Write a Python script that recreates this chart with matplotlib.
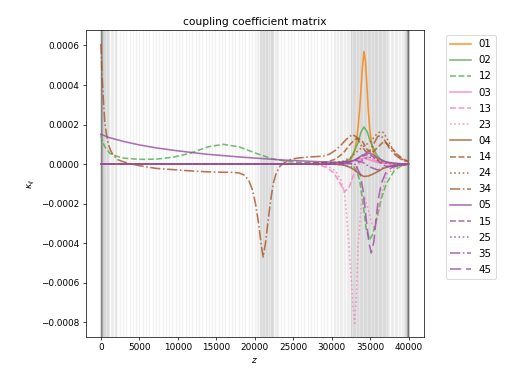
import numpy as np
from matplotlib import pyplot as plt

# colours by the higher mode index, line style by the lower one
mode_colors = {'1': '#ff7f00', '2': '#4daf4a', '3': '#f781bf', '4': '#a65628', '5': '#984ea3'}
mode_styles = {'0': '-', '1': '--', '2': ':', '3': '-.', '4': (0, (7, 3))}

labels = ['01', '02', '12', '03', '13', '23', '04', '14', '24', '34', '05', '15', '25', '35', '45']

# z positions and kappa values (in units of 1e-4)
z_01 = [0, 30000, 31500, 32100, 32500, 32800, 33000, 33200, 33450, 33650, 33850, 34000, 34200, 34400,
        34600, 34750, 34950, 35160, 35400, 35800, 36300, 36700, 37500, 38500, 40000]
k_01 = [0, 0, 0.03, 0.1, 0.25, 0.45, 0.7, 1.1, 1.9, 2.8, 4.0, 4.9, 5.7, 5.2,
        3.9, 2.8, 1.8, 1.1, 0.65, 0.3, 0.14, 0.08, 0.03, 0.01, 0]

z_02 = [0, 30000, 31000, 31500, 32000, 32500, 33000, 33400, 33800, 34200, 34600, 35000, 35400, 35800,
        36300, 37000, 38000, 39000, 40000]
k_02 = [0, 0.02, 0.06, 0.1, 0.17, 0.3, 0.7, 1.05, 1.6, 1.88, 1.65, 1.2, 0.85, 0.5,
        0.25, 0.1, 0.03, 0.01, 0]

z_12 = [0, 250, 520, 1170, 2030, 3000, 5070, 7200, 9400, 11550, 13900, 15900, 18000, 20200, 22400,
        24500, 26700, 28900, 30500, 31500, 32500, 33200, 33640, 34080, 34500, 34950, 35400, 36000,
        36500, 37100, 38200, 39000, 40000]
k_12 = [1.46, 1.1, 0.87, 0.54, 0.4, 0.3, 0.24, 0.25, 0.35, 0.54, 0.87, 1.0, 0.87, 0.54, 0.25,
        0.12, 0.07, 0.06, 0.08, 0.1, 0.05, -0.3, -0.8, -2.0, -3.3, -3.83, -3.5, -2.5,
        -1.7, -1.0, -0.3, -0.1, 0]

z_03 = [0, 31000, 32500, 33500, 34300, 35000, 36000, 37500, 40000]
k_03 = [0, 0, 0.1, 0.25, 0.3, 0.2, 0.08, 0.02, 0]

z_13 = [0, 27000, 28500, 29500, 30300, 31000, 31700, 32300, 32800, 33400, 34000, 34700, 35500,
        36500, 38000, 40000]
k_13 = [0, 0, -0.05, -0.2, -0.45, -0.9, -1.4, -1.15, -0.6, -0.1, 0.3, 0.35, 0.2,
        0.08, 0.02, 0]

z_23 = [0, 28000, 29500, 30500, 31200, 31700, 32100, 32550, 32800, 33000, 33220, 33430, 33860,
        34200, 34700, 35200, 35600, 36000, 36500, 37200, 38500, 40000]
k_23 = [0, 0, -0.1, -0.35, -0.8, -1.5, -3.3, -5.8, -7.3, -8.05, -6.7, -4.2, -2.0,
        -1.6, -2.2, -3.0, -3.3, -2.7, -1.4, -0.5, -0.1, 0]

z_04 = [0, 30500, 31500, 32300, 33000, 33600, 34200, 34800, 35400, 36000, 36700, 37500, 38500, 40000]
k_04 = [0, 0, -0.05, -0.15, -0.3, -0.5, -0.63, -0.6, -0.5, -0.38, -0.22, -0.12, -0.05, 0]

z_14 = [0, 26000, 28000, 29500, 30500, 31500, 32300, 33000, 33500, 34000, 34600, 35200, 36000,
        36800, 37600, 38500, 39300, 40000]
k_14 = [0, 0.02, 0.06, 0.12, 0.25, 0.55, 0.95, 1.25, 1.3, 1.15, 0.75, 0.55, 0.85,
        1.15, 0.9, 0.5, 0.25, 0.12]

z_24 = [0, 28000, 30000, 31500, 32500, 33500, 34300, 35000, 35700, 36300, 36700, 37200, 37800,
        38500, 39300, 40000]
k_24 = [0, 0.01, 0.05, 0.15, 0.35, 0.7, 0.95, 1.1, 1.45, 1.65, 1.6, 1.3, 0.85,
        0.45, 0.22, 0.15]

z_34 = [0, 150, 300, 520, 750, 950, 1250, 1600, 2200, 2900, 4000, 5000, 7200, 9400, 11500, 13700,
        15500, 17200, 18000, 18600, 19200, 19700, 20100, 20500, 20850, 21100, 21400, 21700, 22050,
        22400, 22800, 23300, 23800, 24500, 25500, 26700, 28000, 28900, 29700, 30500, 31200, 31900,
        32700, 33300, 33900, 34500, 35000, 35500, 36000, 36400, 36900, 37500, 38300, 39200, 40000]
k_34 = [6.08, 4.5, 3.4, 2.05, 1.45, 1.04, 0.7, 0.45, 0.22, 0.12, 0.0, -0.08, -0.22, -0.28, -0.34, -0.39,
        -0.41, -0.42, -0.45, -0.55, -0.8, -1.3, -2.0, -3.0, -4.1, -4.7, -4.0, -3.0, -1.9,
        -1.0, -0.45, -0.1, 0.05, 0.22, 0.3, 0.35, 0.38, 0.4, 0.5, 0.7, 0.95, 1.25,
        1.5, 1.35, 0.9, 0.6, 0.7, 1.05, 1.4, 1.45, 1.2, 0.8, 0.45, 0.2, 0.1]

z_05 = [0, 1000, 2900, 5000, 7200, 9400, 11500, 13700, 15900, 18000, 20200, 22400, 24500, 26700,
        28900, 30500, 32000, 33000, 34000, 34700, 35300, 36000, 37000, 38000, 39000, 40000]
k_05 = [1.51, 1.35, 1.15, 0.97, 0.82, 0.7, 0.6, 0.5, 0.43, 0.36, 0.3, 0.24, 0.19, 0.15,
        0.11, 0.09, 0.1, 0.2, 0.45, 0.57, 0.5, 0.3, 0.12, 0.05, 0.02, 0]

z_15 = [0, 30000, 32000, 33000, 34000, 34800, 35500, 36200, 37000, 38000, 39000, 40000]
k_15 = [0, 0, 0.05, 0.2, 0.4, 0.5, 0.35, 0.1, -0.1, -0.15, -0.08, 0]

z_25 = [0, 30000, 31500, 32500, 33500, 34500, 35300, 36000, 37000, 38000, 40000]
k_25 = [0, 0, -0.05, -0.15, 0.1, 0.3, 0.35, 0.2, 0.05, 0.01, 0]

z_35 = [0, 29000, 31000, 32000, 33000, 34000, 35000, 36000, 37000, 38500, 40000]
k_35 = [0, 0, 0.05, 0.15, 0.2, 0.1, -0.15, -0.3, -0.15, -0.05, 0]

z_45 = [0, 31000, 32500, 33200, 33700, 34080, 34500, 34850, 35160, 35500, 35810, 36100, 36460,
        37100, 38000, 39000, 40000]
k_45 = [0, 0, 0.02, -0.1, -0.5, -1.3, -2.8, -4.0, -4.5, -3.9, -2.65, -1.7, -0.97,
        -0.39, -0.12, -0.03, 0]

series = {'01': (z_01, k_01), '02': (z_02, k_02), '12': (z_12, k_12), '03': (z_03, k_03),
          '13': (z_13, k_13), '23': (z_23, k_23), '04': (z_04, k_04), '14': (z_14, k_14),
          '24': (z_24, k_24), '34': (z_34, k_34), '05': (z_05, k_05), '15': (z_15, k_15),
          '25': (z_25, k_25), '35': (z_35, k_35), '45': (z_45, k_45)}

# mesh of the simulation: (start, stop, step) for each region
mesh_segments = [(0, 100, 8), (100, 900, 70), (900, 2000, 180), (2000, 20300, 430),
                 (20300, 20700, 180), (20700, 22400, 80), (22400, 23000, 180),
                 (23000, 30500, 430), (30500, 32500, 180), (32500, 37300, 75),
                 (37300, 39500, 180), (39500, 39850, 60), (39850, 40001, 10)]

fig = plt.figure(figsize=(8, 6), dpi=64)
ax = fig.add_subplot(111)
fig.subplots_adjust(left=0.167, right=0.828, top=0.922, bottom=0.122)

mesh = np.concatenate([np.arange(a, b, s) for a, b, s in mesh_segments])
for zm in mesh:
    ax.axvline(zm, color='k', alpha=0.055, lw=1.6, zorder=0)

for lab in labels:
    z, k = series[lab]
    ax.plot(z, np.array(k) * 1e-4, color=mode_colors[lab[1]], linestyle=mode_styles[lab[0]],
            alpha=0.8, lw=1.8, label=lab)

ax.set_xticks(np.arange(0, 40001, 5000))
ax.set_title('coupling coefficient matrix')
ax.set_xlabel('$z$')
ax.set_ylabel('$\\kappa_{ij}$')
ax.legend(loc='upper left', bbox_to_anchor=(1.05, 1), fontsize=11.5, labelspacing=0.6)

plt.savefig('out.png', dpi=64)
